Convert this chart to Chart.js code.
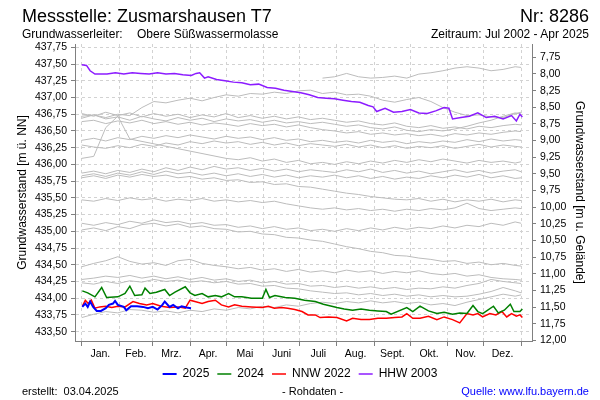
<!DOCTYPE html>
<html>
<head>
<meta charset="utf-8">
<script src="https://cdn.jsdelivr.net/npm/chart.js"></script>
<style>
  html, body { margin: 0; padding: 0; background: #fff; }
  #wrap { position: relative; width: 600px; height: 400px; overflow: hidden; font-family: "Liberation Sans", Arial, sans-serif; color: #000; }
  #wrap canvas { position: absolute; left: 0; top: 0; }
  .t { position: absolute; white-space: pre; line-height: 1; }
</style>
</head>
<body>
<div id="wrap">
  <canvas id="c" width="600" height="400"></canvas>
  <div class="t" style="left:22px; top:7px; font-size:18px;">Messstelle: Zusmarshausen T7</div>
  <div class="t" style="right:11px; top:7px; font-size:18px;">Nr: 8286</div>
  <div class="t" style="left:22px; top:28px; font-size:12px;">Grundwasserleiter:</div>
  <div class="t" style="left:137px; top:28px; font-size:12px;">Obere Süßwassermolasse</div>
  <div class="t" style="right:11px; top:28px; font-size:12px;">Zeitraum: Jul 2002 - Apr 2025</div>
  <div class="t" style="left:22px; top:386px; font-size:11px;">erstellt:  03.04.2025</div>
  <div class="t" style="left:282px; top:386px; font-size:11px;">- Rohdaten -</div>
  <div class="t" style="right:11px; top:386px; font-size:11px; color:#0000ff;">Quelle: www.lfu.bayern.de</div>
</div>
<script>
// ---- axis ticks / labels ----
const monthStarts = [0, 31, 59, 90, 120, 151, 181, 212, 243, 273, 304, 334, 365];
const monthMids = [15.5, 45, 74.5, 105, 135.5, 166, 196.5, 227.5, 258, 288.5, 319, 349.5];
const monthNames = ["Jan.", "Feb.", "Mrz.", "Apr.", "Mai", "Juni", "Juli", "Aug.", "Sept.", "Okt.", "Nov.", "Dez."];
const leftTicks = [433.50, 433.75, 434.00, 434.25, 434.50, 434.75, 435.00, 435.25, 435.50, 435.75, 436.00, 436.25, 436.50, 436.75, 437.00, 437.25, 437.50, 437.75];
const rightTicks = [7.75, 8.00, 8.25, 8.50, 8.75, 9.00, 9.25, 9.50, 9.75, 10.00, 10.25, 10.50, 10.75, 11.00, 11.25, 11.50, 11.75, 12.00];

// ---- highlighted years (day of year, level m ü. NN) ----
const days2025 = [0.5, 3, 5, 7, 9.5, 12.5, 16, 20, 22.6, 26, 27.7, 30, 35, 37, 41, 46, 51, 55, 59, 63, 67, 69, 73, 76, 80, 83, 87, 90.8];
const level2025 = [433.87, 433.92, 433.87, 433.95, 433.87, 433.81, 433.81, 433.85, 433.90, 433.92, 433.96, 433.90, 433.87, 433.82, 433.88, 433.88, 433.87, 433.85, 433.87, 433.83, 433.90, 433.95, 433.87, 433.90, 433.85, 433.88, 433.86, 433.85];

const days2024 = [0.5, 5, 11, 16.6, 20.7, 30, 36, 40, 44, 50, 52.6, 56.7, 62, 69, 73, 77.5, 86, 90, 94, 100, 105, 111, 116, 122, 127, 133, 141, 150, 153, 156, 160.5, 169, 177, 185, 194, 200.7, 212, 218, 225, 232, 239, 246, 253, 257, 270, 275, 281, 288, 295, 301, 308, 314, 320, 325, 329, 333, 342, 346, 351, 356, 359, 364, 366];
const level2024 = [434.11, 434.08, 434.02, 434.16, 434.01, 434.02, 434.07, 434.18, 434.04, 434.05, 434.15, 434.07, 434.09, 434.13, 434.04, 434.09, 434.17, 434.08, 434.04, 434.07, 434.02, 434.04, 434.02, 434.07, 434.02, 434.02, 434.00, 434.00, 434.13, 434.01, 434.04, 434.01, 434.00, 433.97, 433.95, 433.91, 433.86, 433.84, 433.82, 433.84, 433.82, 433.81, 433.80, 433.76, 433.86, 433.80, 433.88, 433.81, 433.77, 433.79, 433.76, 433.78, 433.77, 433.89, 433.80, 433.77, 433.88, 433.78, 433.82, 433.91, 433.80, 433.80, 433.84];

const daysNNW2022 = [0.5, 3, 5.5, 8, 11, 15, 20, 25, 30, 36, 42.6, 48, 54, 59, 66, 73, 80, 86, 90, 94, 100, 105, 111, 116, 122, 127, 133, 141, 150, 155, 160, 166, 171, 177, 183, 188, 194, 198, 205, 212, 220, 225, 232, 239, 246, 253, 260, 266, 270, 275, 281, 288, 295, 301, 308, 314, 320, 325, 329, 333, 339, 344, 349, 353, 357, 361, 364, 366];
const levelNNW2022 = [433.88, 433.97, 433.92, 433.97, 433.85, 433.87, 433.88, 433.86, 433.88, 433.87, 433.95, 433.92, 433.90, 433.92, 433.88, 433.86, 433.87, 433.85, 433.97, 433.95, 433.92, 433.95, 433.97, 433.90, 433.87, 433.90, 433.88, 433.87, 433.86, 433.88, 433.85, 433.86, 433.85, 433.83, 433.80, 433.75, 433.75, 433.71, 433.72, 433.71, 433.66, 433.70, 433.68, 433.68, 433.70, 433.70, 433.71, 433.72, 433.77, 433.70, 433.70, 433.73, 433.68, 433.72, 433.68, 433.63, 433.77, 433.75, 433.77, 433.72, 433.77, 433.75, 433.80, 433.72, 433.77, 433.73, 433.75, 433.71];

const daysHHW2003 = [0, 4, 7, 11, 14, 21, 28, 35, 42, 49, 56, 63, 70, 77, 84, 91, 95, 98, 102, 105, 112, 119, 126, 133, 140, 147, 154, 161, 168, 175, 182, 189, 196, 203, 210, 217, 224, 231, 238, 242, 245, 252, 259, 266, 273, 280, 287, 294, 301, 305, 308, 315, 322, 329, 336, 343, 350, 357, 361, 364, 366];
const levelHHW2003 = [437.49, 437.48, 437.40, 437.35, 437.35, 437.35, 437.37, 437.35, 437.37, 437.36, 437.35, 437.37, 437.35, 437.36, 437.34, 437.33, 437.36, 437.37, 437.29, 437.31, 437.27, 437.25, 437.23, 437.22, 437.19, 437.20, 437.15, 437.14, 437.11, 437.09, 437.07, 437.04, 437.00, 436.99, 436.98, 436.96, 436.94, 436.93, 436.88, 436.86, 436.79, 436.84, 436.78, 436.79, 436.82, 436.77, 436.76, 436.80, 436.85, 436.84, 436.68, 436.70, 436.72, 436.77, 436.70, 436.72, 436.68, 436.73, 436.65, 436.75, 436.71];

// ---- other years (grey), sampled every 10 days ----
const greyDays = [0, 10, 20, 30, 40, 50, 60, 70, 80, 90, 100, 110, 120, 130, 140, 150, 160, 170, 180, 190, 200, 210, 220, 230, 240, 250, 260, 270, 280, 290, 300, 310, 320, 330, 340, 350, 360, 365];
const grey01 = [null, null, null, null, null, null, null, null, null, null, null, null, null, null, null, null, null, null, null, null, 437.29, 437.31, 437.36, 437.31, 437.29, 437.30, 437.32, 437.29, 437.35, 437.37, 437.40, 437.44, 437.46, 437.44, 437.40, 437.42, 437.46, 437.45];
const grey02 = [436.72, 436.74, 436.70, 436.75, 436.73, 436.85, 436.94, 436.92, 436.96, 436.99, 436.95, 437.00, 437.04, 437.02, 437.06, 437.05, 437.08, 437.06, 437.10, 437.11, 437.06, 437.08, 437.04, 437.05, 437.02, 436.96, 436.93, 436.97, 437.00, 436.94, 436.85, 436.78, 436.73, 436.74, 436.71, 436.70, 436.76, 436.78];
const grey03 = [436.76, 436.72, 436.78, 436.73, 436.77, 436.71, 436.76, 436.72, 436.75, 436.70, 436.74, 436.71, 436.76, 436.70, 436.73, 436.69, 436.72, 436.68, 436.71, 436.67, 436.69, 436.66, 436.63, 436.65, 436.61, 436.59, 436.62, 436.57, 436.55, 436.58, 436.54, 436.56, 436.53, 436.57, 436.55, 436.58, 436.60, 436.59];
const grey04 = [436.69, 436.74, 436.68, 436.71, 436.66, 436.72, 436.68, 436.65, 436.70, 436.66, 436.69, 436.64, 436.68, 436.65, 436.67, 436.63, 436.66, 436.62, 436.64, 436.61, 436.63, 436.60, 436.57, 436.59, 436.55, 436.53, 436.56, 436.51, 436.49, 436.52, 436.50, 436.53, 436.57, 436.62, 436.66, 436.72, 436.77, 436.75];
const grey05 = [436.64, 436.66, 436.61, 436.65, 436.62, 436.66, 436.61, 436.64, 436.60, 436.63, 436.59, 436.62, 436.60, 436.57, 436.61, 436.58, 436.60, 436.56, 436.59, 436.55, 436.52, 436.50, 436.47, 436.49, 436.45, 436.47, 436.44, 436.46, 436.43, 436.45, 436.42, 436.46, 436.44, 436.47, 436.45, 436.48, 436.50, 436.49];
const grey06 = [436.36, 436.39, 436.35, 436.40, 436.37, 436.42, 436.39, 436.43, 436.40, 436.44, 436.41, 436.38, 436.42, 436.39, 436.41, 436.37, 436.40, 436.36, 436.38, 436.34, 436.36, 436.33, 436.35, 436.32, 436.36, 436.33, 436.35, 436.31, 436.34, 436.32, 436.35, 436.33, 436.37, 436.34, 436.38, 436.35, 436.37, 436.36];
const grey07 = [436.29, 436.26, 436.24, 436.28, 436.25, 436.30, 436.27, 436.32, 436.29, 436.34, 436.31, 436.35, 436.32, 436.34, 436.30, 436.33, 436.29, 436.32, 436.28, 436.31, 436.29, 436.27, 436.30, 436.26, 436.29, 436.25, 436.28, 436.24, 436.27, 436.25, 436.28, 436.24, 436.27, 436.30, 436.26, 436.29, 436.27, 436.26];
const grey08 = [436.09, 436.12, 436.55, 436.72, 436.38, null, null, null, null, null, null, null, 436.09, 436.07, 436.10, 436.05, 436.08, 436.03, 436.06, 436.01, 436.03, 436.00, 436.04, 436.01, 436.05, 436.02, 436.06, 436.03, 436.07, 436.04, 436.08, 436.05, 436.02, 436.06, 436.03, 436.05, 436.02, 436.04];
const grey09 = [435.87, 435.90, 435.86, 435.91, 435.88, 435.93, 435.89, 435.95, 435.91, 435.96, 435.92, 435.97, 435.93, 435.95, 435.91, 435.94, 435.90, 435.93, 435.89, 435.92, 435.90, 435.88, 435.92, 435.89, 435.93, 435.88, 435.91, 435.87, 435.90, 435.86, 435.89, 435.92, 435.88, 435.91, 435.87, 435.90, 435.92, 435.89];
const grey10 = [435.83, 435.86, 435.82, 435.87, 435.84, 435.89, 435.85, 435.90, 435.86, 435.88, 435.84, 435.87, 435.83, 435.86, 435.82, 435.85, 435.81, 435.84, 435.80, 435.83, 435.81, 435.84, 435.80, 435.83, 435.79, 435.82, 435.78, 435.81, 435.79, 435.83, 435.80, 435.84, 435.81, 435.85, 435.80, 435.83, 435.79, 435.80];
const grey11 = [435.80, 435.83, 435.79, 435.84, 435.81, 435.85, 435.82, 435.84, 435.80, 435.82, 435.78, 435.80, 435.76, 435.77, 435.73, 435.74, 435.70, 435.71, 435.67, 435.66, 435.63, 435.60, 435.57, 435.55, 435.52, 435.50, 435.48, 435.47, 435.49, 435.45, 435.48, 435.44, 435.47, 435.45, 435.48, 435.44, 435.47, 435.46];
const grey12 = [435.47, 435.45, 435.49, 435.46, 435.50, 435.47, 435.49, 435.45, 435.48, 435.46, 435.49, 435.45, 435.47, 435.44, 435.46, 435.43, 435.45, 435.41, 435.38, 435.35, 435.33, 435.35, 435.32, 435.34, 435.31, 435.33, 435.30, 435.33, 435.31, 435.34, 435.32, 435.35, 435.42, 435.34, 435.31, 435.33, 435.35, 435.34];
const grey13 = [435.12, 435.09, 435.13, 435.10, 435.15, 435.12, 435.17, 435.13, 435.15, 435.11, 435.13, 435.09, 435.10, 435.06, 435.08, 435.04, 435.07, 435.03, 435.05, 435.01, 435.03, 435.00, 435.04, 435.01, 435.05, 435.02, 435.06, 435.03, 435.06, 435.04, 435.08, 435.05, 435.09, 435.07, 435.12, 435.09, 435.14, 435.12];
const grey14 = [435.02, 435.05, 435.01, 435.07, 435.04, 435.10, 435.12, 435.08, 435.11, 435.06, 435.08, 435.04, 435.03, 434.99, 435.00, 434.96, 434.95, 434.91, 434.90, 434.87, 434.85, 434.81, 434.77, 434.74, 434.70, 434.68, 434.64, 434.63, 434.60, 434.58, 434.55, 434.56, 434.52, 434.54, 434.50, 434.52, 434.49, 434.48];
const grey15 = [434.47, 434.52, 434.56, 434.62, 434.55, 434.51, 434.53, 434.49, 434.56, 434.58, 434.52, 434.49, 434.47, 434.44, 434.46, 434.42, 434.44, 434.40, 434.43, 434.39, 434.41, 434.38, 434.42, 434.39, 434.41, 434.37, 434.40, 434.38, 434.41, 434.37, 434.35, 434.37, 434.33, 434.35, 434.31, 434.29, 434.28, 434.27];
const grey16 = [434.28, 434.30, 434.33, 434.31, 434.34, 434.30, 434.33, 434.29, 434.32, 434.28, 434.31, 434.27, 434.29, 434.25, 434.27, 434.23, 434.25, 434.21, 434.22, 434.18, 434.19, 434.16, 434.18, 434.15, 434.17, 434.14, 434.16, 434.13, 434.15, 434.14, 434.17, 434.15, 434.19, 434.22, 434.28, 434.25, 434.23, 434.22];
const grey17 = [434.23, 434.21, 434.25, 434.22, 434.26, 434.24, 434.28, 434.25, 434.27, 434.24, 434.26, 434.23, 434.25, 434.21, 434.22, 434.18, 434.19, 434.15, 434.14, 434.11, 434.09, 434.07, 434.08, 434.05, 434.07, 434.04, 434.06, 434.03, 434.05, 434.02, 434.04, 434.02, 434.03, 434.06, 434.10, 434.16, 434.11, 434.08];
const grey18 = [433.71, 433.76, 433.80, 433.78, 433.83, 433.82, 433.79, 433.81, 433.78, 433.82, 433.80, 433.84, 433.82, 433.86, 433.84, 433.88, 433.86, 433.90, 433.88, 433.92, 433.94, 433.92, 433.95, 433.93, 433.96, 433.93, 433.95, 433.92, 433.94, 433.90, 433.92, 433.89, 433.94, 433.98, 434.02, 434.06, 434.03, 434.05];

const greySeries = [grey01, grey02, grey03, grey04, grey05, grey06, grey07, grey08, grey09, grey10, grey11, grey12, grey13, grey14, grey15, grey16, grey17, grey18];

// ---- build datasets ----
const FONT = '"Liberation Sans", Arial, sans-serif';
const toPts = (xs, ys) => xs.map((x, i) => ({ x: x, y: ys[i] }));
const lineDs = (label, xs, ys, color, width) => ({
  label: label, data: toPts(xs, ys), borderColor: color, backgroundColor: color,
  borderWidth: width, pointRadius: 0, tension: 0, fill: false, spanGaps: true
});

const datasets = [
  lineDs('2025', days2025, level2025, '#0000ff', 2),
  lineDs('2024', days2024, level2024, '#008000', 1.5),
  lineDs('NNW 2022', daysNNW2022, levelNNW2022, '#ff0000', 1.5),
  lineDs('HHW 2003', daysHHW2003, levelHHW2003, '#8c1cff', 1.5)
];
greySeries.forEach((s, i) => datasets.push(lineDs('grey' + i, greyDays, s, '#bcbcbc', 1)));

const isMid = (v) => monthMids.indexOf(v) >= 0;
const xTicks = monthStarts.concat(monthMids).sort((a, b) => a - b);
const GRID = '#d2d2d2';
const AXIS = '#808080';

new Chart(document.getElementById('c'), {
  type: 'line',
  data: { datasets: datasets },
  options: {
    responsive: false,
    animation: false,
    devicePixelRatio: 1,
    layout: { padding: { top: 44, bottom: 10, left: 0, right: 0 } },
    plugins: {
      tooltip: { enabled: false },
      title: { display: false },
      legend: {
        position: 'bottom',
        labels: {
          filter: (item) => item.datasetIndex < 4,
          usePointStyle: true, pointStyle: 'line', pointStyleWidth: 14,
          boxHeight: 12, padding: 8, color: '#000',
          font: { family: FONT, size: 12 }
        }
      }
    },
    scales: {
      x: {
        type: 'linear', position: 'bottom', min: -5.56, max: 374,
        afterBuildTicks: (s) => { s.ticks = xTicks.map(v => ({ value: v })); },
        afterFit: (s) => { s.height = 19; },
        ticks: {
          autoSkip: false, maxRotation: 0, minRotation: 0, padding: 2, color: '#000',
          font: { family: FONT, size: 10.5 },
          callback: (v) => { const i = monthMids.indexOf(v); return i >= 0 ? monthNames[i] : ''; }
        },
        grid: {
          color: (ctx) => (ctx.tick && isMid(ctx.tick.value)) ? 'rgba(0,0,0,0)' : GRID,
          tickColor: (ctx) => (ctx.tick && isMid(ctx.tick.value)) ? 'rgba(0,0,0,0)' : AXIS,
          tickLength: 5, lineWidth: 1
        },
        border: { display: true, color: AXIS, width: 1, dash: [3, 3] }
      },
      y: {
        type: 'linear', position: 'left', min: 433.36, max: 437.80,
        afterBuildTicks: (s) => { s.ticks = leftTicks.map(v => ({ value: v })); },
        afterFit: (s) => { s.width = 75; },
        ticks: {
          padding: 4, color: '#000', font: { family: FONT, size: 10.5 },
          callback: (v) => v.toFixed(2).replace('.', ',')
        },
        grid: { color: GRID, tickColor: AXIS, tickLength: 4, lineWidth: 1 },
        border: { display: true, color: AXIS, width: 1, dash: [3, 3] },
        title: {
          display: true, text: 'Grundwasserstand [m ü. NN]', color: '#000',
          font: { family: FONT, size: 12 }, padding: { top: 15, bottom: 0 }
        }
      },
      y2: {
        type: 'linear', position: 'right', reverse: true, min: 7.55, max: 12.01,
        afterBuildTicks: (s) => { s.ticks = rightTicks.map(v => ({ value: v })); },
        afterFit: (s) => { s.width = 68; },
        ticks: {
          padding: 4, color: '#000', font: { family: FONT, size: 10.5 },
          callback: (v) => v.toFixed(2).replace('.', ',')
        },
        grid: { drawOnChartArea: false, tickColor: AXIS, tickLength: 4 },
        border: { display: true, color: AXIS, width: 1 },
        title: {
          display: true, text: 'Grundwasserstand [m u. Gelände]', color: '#000',
          font: { family: FONT, size: 12 }, padding: { top: 13, bottom: 0 }
        }
      }
    }
  }
});
</script>
</body>
</html>
